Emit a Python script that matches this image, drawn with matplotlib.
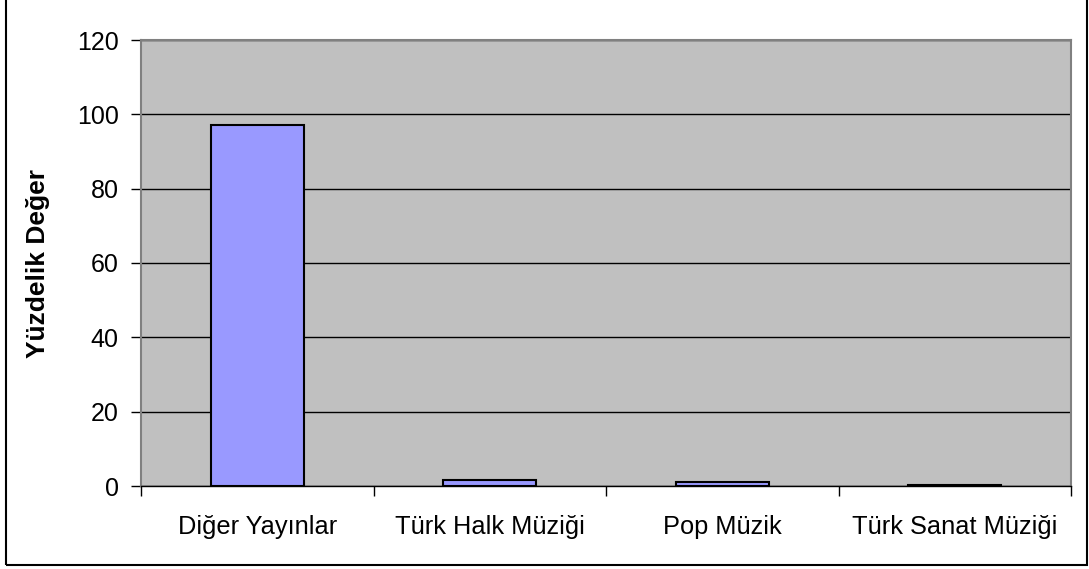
import matplotlib.pyplot as plt
from matplotlib.patches import Rectangle

CATEGORIES = ['Diğer Yayınlar', 'Türk Halk Müziği', 'Pop Müzik', 'Türk Sanat Müziği']
VALUES = [97.0, 1.6, 1.1, 0.3]
Y_TICKS = [0, 20, 40, 60, 80, 100, 120]

W, H = 1089, 569

plt.rcParams['font.family'] = ['Liberation Sans', 'DejaVu Sans']

fig = plt.figure(figsize=(W / 100, H / 100), dpi=100)

# outer chart border (top edge sits outside the picture)
fig.patches.append(Rectangle((6 / W, 1 - 565 / H), (1087 - 6) / W, 565 / H + 0.01,
                             transform=fig.transFigure, fill=False,
                             edgecolor='black', linewidth=1.5, clip_on=False))

ax = fig.add_axes([141 / W, 1 - 486 / H, (1071 - 141) / W, (486 - 40) / H])
ax.set_facecolor('#C0C0C0')

x = list(range(len(CATEGORIES)))
ax.bar(x, VALUES, width=0.4, color='#9999FF', edgecolor='black', linewidth=1.5, zorder=3)

ax.set_xlim(-0.5, len(CATEGORIES) - 0.5)
ax.set_ylim(0, 120)
ax.set_yticks(Y_TICKS)
ax.yaxis.grid(True, color='black', linewidth=1, zorder=1)
ax.set_axisbelow(True)

ax.set_xticks([i - 0.5 for i in range(len(CATEGORIES) + 1)])
ax.set_xticklabels([])
ax.set_xticks(x, minor=True)
ax.set_xticklabels(CATEGORIES, minor=True, fontsize=18.3)
ax.tick_params(axis='x', which='minor', length=0, pad=21)
ax.tick_params(axis='x', which='major', length=7, width=1, direction='out')
ax.tick_params(axis='y', length=7, width=1, direction='out', labelsize=18, pad=9)

for side in ['top', 'right', 'left']:
    ax.spines[side].set_color('#808080')
    ax.spines[side].set_linewidth(1.5)
ax.spines['bottom'].set_color('black')
ax.spines['bottom'].set_linewidth(1)

ax.set_ylabel('Yüzdelik Değer', fontsize=19, fontweight='bold')
ax.yaxis.set_label_coords(-(141 - 50) / (1071 - 141), 0.5)

fig.savefig('out.png', dpi=100)
